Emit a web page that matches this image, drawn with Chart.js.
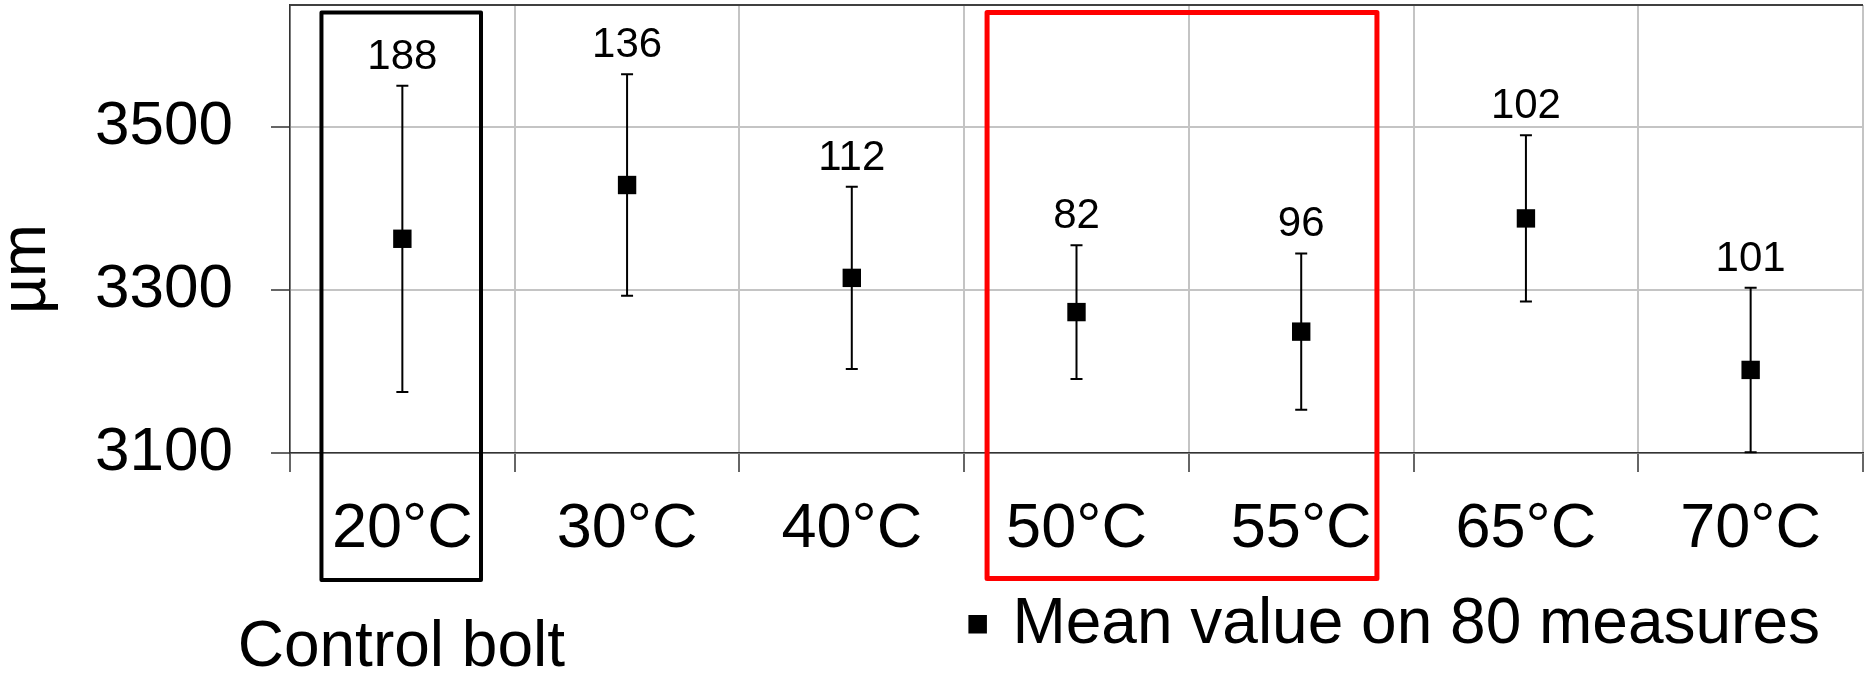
<!DOCTYPE html>
<html lang="en">
<head>
  <meta charset="UTF-8" />
  <title>Bolt length vs temperature</title>
  <script src="https://cdn.jsdelivr.net/npm/chart.js"></script>
  <style>
    html, body { margin: 0; padding: 0; background: #fff; }
    canvas { display: block; }
  </style>
</head>
<body>
  <canvas id="chart" width="1864" height="674"></canvas>

  <script>
    // data
    const temps = ['20°C', '30°C', '40°C', '50°C', '55°C', '65°C', '70°C'];
    const means = [3363, 3429, 3315, 3273, 3249, 3388, 3202];
    const errors = [188, 136, 112, 82, 96, 102, 101];
    const yTicks = [3100, 3300, 3500];
    const yMin = 3100;
    const yMax = 3650;
    const seriesLabel = 'Mean value on 80 measures';
    const yTitle = 'µm';
    const controlLabel = 'Control bolt';
    const controlIndex = 0;       // black box
    const highlight = [3, 4];     // red box

    const FONT = '"Liberation Sans", Arial, sans-serif';

    // error bars + value labels
    const errorBars = {
      id: 'errorBars',
      beforeDatasetsDraw(chart) {
        const { ctx } = chart;
        const x = chart.scales.x, y = chart.scales.y;
        ctx.save();
        ctx.strokeStyle = '#000';
        ctx.lineWidth = 2;
        ctx.fillStyle = '#000';
        ctx.font = '42px ' + FONT;
        ctx.textAlign = 'center';
        ctx.textBaseline = 'alphabetic';
        means.forEach((m, i) => {
          const px = x.getPixelForValue(i);
          const top = y.getPixelForValue(m + errors[i]);
          const bot = y.getPixelForValue(m - errors[i]);
          ctx.beginPath();
          ctx.moveTo(px, top); ctx.lineTo(px, bot);
          ctx.moveTo(px - 6, top); ctx.lineTo(px + 6, top);
          ctx.moveTo(px - 6, bot); ctx.lineTo(px + 6, bot);
          ctx.stroke();
          ctx.fillText(String(errors[i]), px, top - 17);
        });
        ctx.restore();
      }
    };

    // frame, highlight boxes, axis title, bottom texts
    const decorations = {
      id: 'decorations',
      afterDraw(chart) {
        const { ctx, chartArea } = chart;
        const x = chart.scales.x;
        const w = x.getPixelForValue(1) - x.getPixelForValue(0);
        ctx.save();

        // top border of the plot
        ctx.strokeStyle = '#404040';
        ctx.lineWidth = 2;
        ctx.beginPath();
        ctx.moveTo(chartArea.left, chartArea.top);
        ctx.lineTo(chartArea.right, chartArea.top);
        ctx.stroke();

        const boxTop = chartArea.top + 7.5;
        const boxBottom = chartArea.bottom + 127;
        ctx.lineJoin = 'round';

        // control bolt box
        const cx = x.getPixelForValue(controlIndex);
        ctx.strokeStyle = '#000';
        ctx.lineWidth = 4;
        ctx.strokeRect(cx - 0.36 * w, boxTop, 0.71 * w, boxBottom - boxTop);

        // highlighted temperatures
        const l = x.getPixelForValue(highlight[0]) - 0.398 * w;
        const r = x.getPixelForValue(highlight[1]) + 0.337 * w;
        ctx.strokeStyle = '#ff0000';
        ctx.lineWidth = 5;
        ctx.strokeRect(l, boxTop, r - l, boxBottom - boxTop - 1.5);

        // y axis title
        ctx.fillStyle = '#000';
        ctx.font = '64px ' + FONT;
        ctx.save();
        ctx.translate(45, (chartArea.top + chartArea.bottom) / 2 + 40);
        ctx.rotate(-Math.PI / 2);
        ctx.textAlign = 'center';
        ctx.textBaseline = 'alphabetic';
        ctx.fillText(yTitle, 0, 0);
        ctx.restore();

        // control bolt caption
        ctx.font = '64px ' + FONT;
        ctx.textAlign = 'center';
        ctx.textBaseline = 'alphabetic';
        ctx.fillText(controlLabel, cx - 1, chart.height - 8);

        // legend
        ctx.textAlign = 'left';
        const tw = ctx.measureText(seriesLabel).width;
        const tx = chartArea.right - 43 - tw;
        ctx.fillText(seriesLabel, tx, chart.height - 31);
        ctx.fillRect(tx - 44, chart.height - 59, 18.5, 18.5);

        ctx.restore();
      }
    };

    new Chart(document.getElementById('chart'), {
      type: 'line',
      data: {
        labels: temps,
        datasets: [{
          label: seriesLabel,
          data: means,
          showLine: false,
          pointStyle: 'rect',
          pointRadius: 13,
          pointHoverRadius: 13,
          backgroundColor: '#000',
          borderColor: '#000',
          pointBorderWidth: 0
        }]
      },
      options: {
        responsive: false,
        animation: false,
        events: [],
        layout: { autoPadding: false, padding: { top: 5, right: 1, left: 0, bottom: 0 } },
        plugins: {
          legend: { display: false },
          tooltip: { enabled: false }
        },
        scales: {
          x: {
            offset: true,
            grid: {
              offset: true,
              color: '#c4c4c4',
              lineWidth: 2,
              tickColor: '#333',
              tickWidth: 1.5,
              tickLength: 19
            },
            border: { color: '#333', width: 1.5 },
            ticks: {
              color: '#000',
              font: { family: FONT, size: 63 },
              padding: 20,
              maxRotation: 0,
              autoSkip: false
            },
            afterFit(s) {
              s.height = 221;
              s.paddingLeft = 0;
              s.paddingRight = 0;
            }
          },
          y: {
            min: yMin,
            max: yMax,
            afterBuildTicks(s) { s.ticks = yTicks.map(v => ({ value: v })); },
            grid: {
              color: '#c4c4c4',
              lineWidth: 2,
              tickColor: '#333',
              tickWidth: 1.5,
              tickLength: 19
            },
            border: { color: '#333', width: 1.5 },
            ticks: {
              color: '#000',
              font: { family: FONT, size: 62 },
              padding: 38,
              callback: v => String(v)
            },
            afterFit(s) {
              s.width = 290;
              s.paddingTop = 0;
              s.paddingBottom = 0;
            }
          }
        }
      },
      plugins: [errorBars, decorations]
    });
  </script>
</body>
</html>
